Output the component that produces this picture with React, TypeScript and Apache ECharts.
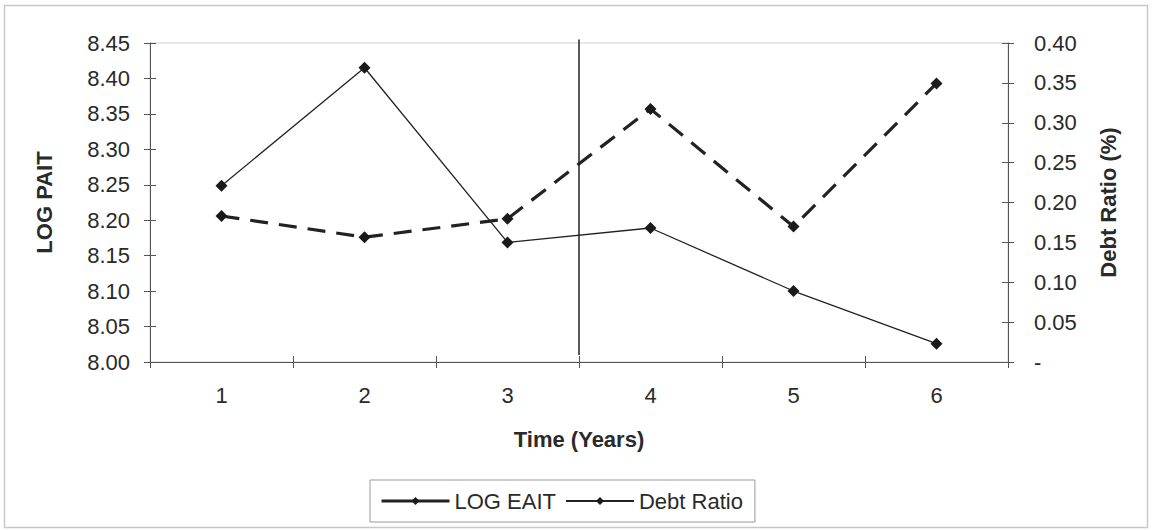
import React, { useEffect, useRef } from "react";
import * as echarts from "echarts";

// ---- data ----
const years = ["1", "2", "3", "4", "5", "6"];
const logEait = [8.206, 8.176, 8.202, 8.357, 8.191, 8.393]; // left axis (LOG PAIT)
const debtRatio = [0.221, 0.369, 0.15, 0.168, 0.089, 0.023]; // right axis (Debt Ratio %)
const leftTickLabels = ["8.00", "8.05", "8.10", "8.15", "8.20", "8.25", "8.30", "8.35", "8.40", "8.45"];
const rightTickLabels = ["-", "0.05", "0.10", "0.15", "0.20", "0.25", "0.30", "0.35", "0.40"];
const dividerX = 3.5; // vertical divider between year 3 and year 4
const dividerRange = [8.01, 8.455];

const LEFT_MIN = 8.0, LEFT_MAX = 8.45, LEFT_INT = 0.05;
const RIGHT_MIN = 0, RIGHT_MAX = 0.4, RIGHT_INT = 0.05;

const FONT = "'Liberation Sans', Arial, sans-serif";
const TXT = "#2a2a2a";
const AX = "#555";

export default function App() {
  const ref = useRef<HTMLDivElement>(null);
  useEffect(() => {
    document.body.style.margin = "0";
    if (!ref.current) return;
    const chart = echarts.init(ref.current, null, { renderer: "svg" });
    const tickInside = (pos: string, min: number, max: number, interval: number) => ({
      type: "value",
      position: pos,
      min,
      max,
      interval,
      axisLine: { show: false },
      axisLabel: { show: false },
      splitLine: { show: false },
      axisTick: { show: true, inside: true, length: 6, lineStyle: { color: AX, width: 1 } },
    });
    const option: any = {
      animation: false,
      backgroundColor: "#fff",
      textStyle: { fontFamily: FONT },
      grid: {
        left: 150,
        right: 144,
        top: 43,
        bottom: 168,
        show: true,
        borderColor: "#d0d0d0",
        borderWidth: 1,
        backgroundColor: "transparent",
      },
      graphic: [
        {
          type: "rect",
          shape: { x: 4.5, y: 5.5, width: 1143, height: 522 },
          style: { fill: "none", stroke: "#c8c8c8", lineWidth: 1.5 },
          silent: true,
          z: -1,
        },
      ],
      legend: {
        data: [
          { name: "LOG EAIT", lineStyle: { type: "solid", width: 3 } },
          { name: "Debt Ratio" },
        ],
        left: 370,
        top: 480,
        orient: "horizontal",
        padding: [10, 12, 10, 10],
        itemGap: 9,
        itemWidth: 68,
        itemHeight: 10,
        borderColor: "#999",
        borderWidth: 1,
        textStyle: { fontFamily: FONT, fontSize: 22, color: TXT, padding: [0, 0, 0, 0] },
        selectedMode: false,
      },
      xAxis: [
        {
          type: "category",
          data: years,
          position: "bottom",
          boundaryGap: true,
          axisLine: { lineStyle: { color: AX, width: 1.2 } },
          axisTick: { show: true, length: 6, lineStyle: { color: AX } },
          axisLabel: { fontFamily: FONT, fontSize: 22, color: TXT, margin: 22 },
          name: "Time (Years)",
          nameLocation: "middle",
          nameGap: 66,
          nameTextStyle: { fontFamily: FONT, fontSize: 22, fontWeight: "bold", color: TXT },
          splitLine: { show: false },
        },
        {
          type: "value",
          position: "bottom",
          min: 0.5,
          max: 6.5,
          show: false,
        },
        {
          type: "category",
          data: years,
          position: "bottom",
          boundaryGap: true,
          axisLine: { show: false },
          axisLabel: { show: false },
          axisTick: { show: true, inside: true, length: 6, lineStyle: { color: AX } },
          splitLine: { show: false },
        },
      ],
      yAxis: [
        {
          type: "value",
          position: "left",
          min: LEFT_MIN,
          max: LEFT_MAX,
          interval: LEFT_INT,
          axisLine: { show: true, lineStyle: { color: AX, width: 1 } },
          axisTick: { show: true, length: 6, lineStyle: { color: AX } },
          splitLine: { show: false },
          axisLabel: {
            fontFamily: FONT,
            fontSize: 22,
            color: TXT,
            margin: 20,
            formatter: (v: number) => leftTickLabels[Math.round((v - LEFT_MIN) / LEFT_INT)] ?? "",
          },
          name: "LOG PAIT",
          nameLocation: "middle",
          nameGap: 95,
          nameRotate: 90,
          nameTextStyle: { fontFamily: FONT, fontSize: 22, fontWeight: "bold", color: TXT },
        },
        {
          type: "value",
          position: "right",
          min: RIGHT_MIN,
          max: RIGHT_MAX,
          interval: RIGHT_INT,
          axisLine: { show: true, lineStyle: { color: AX, width: 1 } },
          axisTick: { show: true, length: 6, lineStyle: { color: AX } },
          splitLine: { show: false },
          axisLabel: {
            fontFamily: FONT,
            fontSize: 22,
            color: TXT,
            margin: 26,
            formatter: (v: number) => rightTickLabels[Math.round((v - RIGHT_MIN) / RIGHT_INT)] ?? "",
          },
          name: "Debt Ratio (%)",
          nameLocation: "middle",
          nameGap: 89,
          nameRotate: 90,
          nameTextStyle: { fontFamily: FONT, fontSize: 22, fontWeight: "bold", color: TXT },
        },
        tickInside("left", LEFT_MIN, LEFT_MAX, LEFT_INT),
        tickInside("right", RIGHT_MIN, RIGHT_MAX, RIGHT_INT),
      ],
      series: [
        {
          name: "LOG EAIT",
          type: "line",
          xAxisIndex: 0,
          yAxisIndex: 0,
          data: logEait,
          symbol: "diamond",
          symbolSize: 12,
          itemStyle: { color: "#1a1a1a" },
          lineStyle: { color: "#222", width: 3.2, type: [18, 11] },
          z: 3,
        },
        {
          name: "Debt Ratio",
          type: "line",
          xAxisIndex: 0,
          yAxisIndex: 1,
          data: debtRatio,
          symbol: "diamond",
          symbolSize: 12,
          itemStyle: { color: "#1a1a1a" },
          lineStyle: { color: "#222", width: 1.3 },
          z: 3,
        },
        {
          name: "divider",
          type: "line",
          xAxisIndex: 1,
          yAxisIndex: 0,
          data: dividerRange.map((v) => [dividerX, v]),
          symbol: "none",
          lineStyle: { color: "#222", width: 1.5 },
          silent: true,
          clip: false,
          z: 2,
        },
      ],
    };
    chart.setOption(option);
    return () => chart.dispose();
  }, []);
  return <div ref={ref} style={{ width: 1152, height: 530 }} />;
}
